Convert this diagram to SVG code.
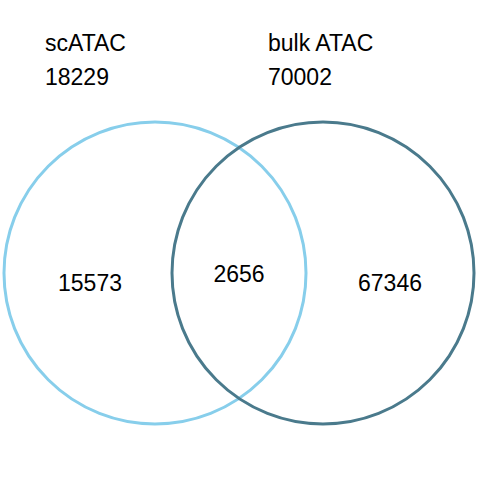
<svg xmlns="http://www.w3.org/2000/svg" width="480" height="480" viewBox="0 0 480 480">
<style>
text{font-family:"Liberation Sans",Arial,sans-serif;font-size:23px;fill:#000}
.c{fill:none;stroke-width:3}
</style>
<rect width="480" height="480" fill="#fff"/>
<g id="scATAC">
<circle class="c" cx="155" cy="273" r="151" stroke="#87CEEB"/>
<text x="45" y="51">scATAC</text>
<text x="45" y="85">18229</text>
<text x="90" y="291" text-anchor="middle">15573</text>
</g>
<g id="bulkATAC">
<circle class="c" cx="323" cy="273" r="151" stroke="#4A7A8C"/>
<text x="268" y="51">bulk ATAC</text>
<text x="268" y="85">70002</text>
<text x="390" y="291" text-anchor="middle">67346</text>
</g>
<g id="overlap">
<text x="239" y="282" text-anchor="middle">2656</text>
</g>
<g id="connectors"/>
</svg>
